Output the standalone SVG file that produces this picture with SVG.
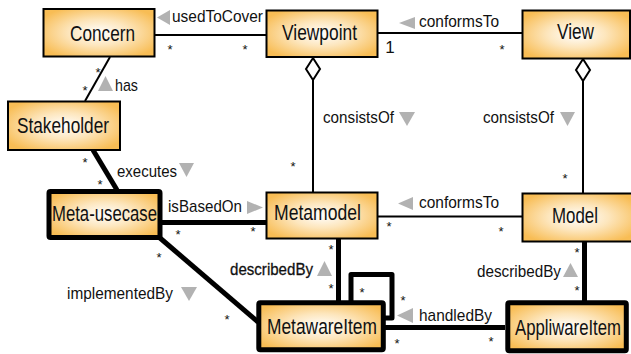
<svg xmlns="http://www.w3.org/2000/svg" width="631" height="354" viewBox="0 0 631 354">
  <defs>
    <radialGradient id="nodeFill" cx="50%" cy="50%" r="60%">
      <stop offset="0" stop-color="#ffffff"/>
      <stop offset="0.45" stop-color="#fde6bd"/>
      <stop offset="1" stop-color="#f8bd55"/>
    </radialGradient>
    <style>
      .node { fill: url(#nodeFill); stroke: #000; stroke-width: 2; }
      .node.heavy { stroke-width: 5; stroke-linejoin: round; }
      .name { font-family: "Liberation Sans", Arial, sans-serif; font-size: 22px; fill: #111; }
      .link { fill: none; stroke: #000; stroke-width: 2; }
      .link.heavy { stroke-width: 5; stroke-linejoin: round; }
      .diamond { fill: #fff; stroke: #000; stroke-width: 2; }
      .lbl { font-family: "Liberation Sans", Arial, sans-serif; font-size: 17px; fill: #111; }
      .dir { fill: #b2b2b2; }
      .mult { font-family: "Liberation Sans", Arial, sans-serif; font-size: 13px; fill: #111; text-anchor: middle; }
      .mult.one { font-size: 17px; }
    </style>
  </defs>

  <!-- associations -->
  <g id="connectors">
    <!-- Concern - Viewpoint -->
    <line class="link" x1="155" y1="35" x2="266" y2="35"/>
    <polygon class="dir" points="157,17.5 170,10 170,25"/>
    <text class="lbl" x="172" y="22" textLength="91" lengthAdjust="spacingAndGlyphs">usedToCover</text>
    <text class="mult" x="170" y="54">*</text>
    <text class="mult" x="245" y="54">*</text>

    <!-- Viewpoint - View -->
    <line class="link" x1="378" y1="33" x2="522" y2="33"/>
    <polygon class="dir" points="399,23 415,17 415,29"/>
    <text class="lbl" x="419" y="27" textLength="80" lengthAdjust="spacingAndGlyphs">conformsTo</text>
    <text class="mult one" x="390" y="53">1</text>
    <text class="mult" x="502" y="54">*</text>

    <!-- Concern - Stakeholder -->
    <line class="link" x1="110" y1="57" x2="85" y2="101"/>
    <polygon class="dir" points="105.5,76 98,91 113,91"/>
    <text class="lbl" x="115" y="91" textLength="23" lengthAdjust="spacingAndGlyphs">has</text>
    <text class="mult" x="98" y="77">*</text>
    <text class="mult" x="85" y="95">*</text>

    <!-- Viewpoint consistsOf Metamodel -->
    <line class="link" x1="313" y1="80" x2="313" y2="192"/>
    <polygon class="diamond" points="313,58 320,69 313,80 306,69"/>
    <polygon class="dir" points="399,112 415,112 407,126"/>
    <text class="lbl" x="323" y="123" textLength="71" lengthAdjust="spacingAndGlyphs">consistsOf</text>
    <text class="mult" x="293" y="171">*</text>

    <!-- View consistsOf Model -->
    <line class="link" x1="583" y1="80" x2="583" y2="193"/>
    <polygon class="diamond" points="583,59 590,70 583,81 576,70"/>
    <polygon class="dir" points="560,112 575,112 567.5,126"/>
    <text class="lbl" x="483" y="123" textLength="71" lengthAdjust="spacingAndGlyphs">consistsOf</text>
    <text class="mult" x="565" y="183">*</text>

    <!-- Stakeholder executes Meta-usecase -->
    <line class="link heavy" x1="93" y1="150" x2="117" y2="190"/>
    <polygon class="dir" points="179,163 194,163 186.5,177"/>
    <text class="lbl" x="117" y="177" textLength="60" lengthAdjust="spacingAndGlyphs">executes</text>
    <text class="mult" x="85" y="167">*</text>
    <text class="mult" x="100" y="189">*</text>

    <!-- Meta-usecase isBasedOn Metamodel -->
    <line class="link heavy" x1="162" y1="222.5" x2="266" y2="222.5"/>
    <polygon class="dir" points="247,201 263,207.5 247,214"/>
    <text class="lbl" x="168" y="212" textLength="74" lengthAdjust="spacingAndGlyphs">isBasedOn</text>
    <text class="mult" x="178" y="239">*</text>
    <text class="mult" x="253" y="236">*</text>

    <!-- Metamodel - Model -->
    <line class="link" x1="378" y1="216.5" x2="522" y2="216.5"/>
    <polygon class="dir" points="398,203.5 413,197 413,210"/>
    <text class="lbl" x="419" y="208" textLength="80" lengthAdjust="spacingAndGlyphs">conformsTo</text>
    <text class="mult" x="389" y="231">*</text>
    <text class="mult" x="501" y="236">*</text>

    <!-- Meta-usecase implementedBy MetawareItem -->
    <line class="link heavy" x1="160" y1="238" x2="258" y2="322"/>
    <polygon class="dir" points="181,287 197,287 189,301"/>
    <text class="lbl" x="67" y="299" textLength="106" lengthAdjust="spacingAndGlyphs">implementedBy</text>
    <text class="mult" x="159" y="262">*</text>
    <text class="mult" x="227" y="324">*</text>

    <!-- Metamodel describedBy MetawareItem -->
    <line class="link heavy" x1="338.5" y1="239" x2="338.5" y2="301"/>
    <polygon class="dir" points="324.5,261 317,276 332,276"/>
    <text class="lbl" x="230" y="275" textLength="83" lengthAdjust="spacingAndGlyphs" stroke="#111" stroke-width="0.3">describedBy</text>
    <text class="mult" x="331" y="254">*</text>
    <text class="mult" x="331" y="293">*</text>

    <!-- Model describedBy AppliwareItem -->
    <line class="link heavy" x1="584.5" y1="242" x2="584.5" y2="301"/>
    <polygon class="dir" points="570.5,263 563,277 578,277"/>
    <text class="lbl" x="477" y="277" textLength="84" lengthAdjust="spacingAndGlyphs">describedBy</text>
    <text class="mult" x="577" y="257">*</text>
    <text class="mult" x="577" y="295">*</text>

    <!-- MetawareItem self association -->
    <polyline class="link heavy" points="351,301 351,274.5 392,274.5 392,318 385,318"/>
    <text class="mult" x="362" y="297">*</text>
    <text class="mult" x="403" y="305">*</text>

    <!-- MetawareItem handledBy AppliwareItem -->
    <line class="link heavy" x1="385" y1="327.5" x2="505" y2="327.5"/>
    <polygon class="dir" points="397,315.5 413,308 413,323"/>
    <text class="lbl" x="419" y="321" textLength="73" lengthAdjust="spacingAndGlyphs">handledBy</text>
    <text class="mult" x="397" y="348">*</text>
    <text class="mult" x="491" y="346">*</text>
  </g>

  <!-- classes -->
  <g id="concern">
    <rect class="node" x="43.5" y="9" width="111" height="47.5"/>
    <text class="name" x="70" y="41" textLength="65" lengthAdjust="spacingAndGlyphs">Concern</text>
  </g>
  <g id="viewpoint">
    <rect class="node" x="266.5" y="10.5" width="111" height="46.5"/>
    <text class="name" x="282" y="40" textLength="75" lengthAdjust="spacingAndGlyphs">Viewpoint</text>
  </g>
  <g id="view">
    <rect class="node" x="522.5" y="10.5" width="107.5" height="48"/>
    <text class="name" x="557" y="39" textLength="37" lengthAdjust="spacingAndGlyphs">View</text>
  </g>
  <g id="stakeholder">
    <rect class="node" x="8" y="101.5" width="112" height="48.5"/>
    <text class="name" x="17" y="133" textLength="92" lengthAdjust="spacingAndGlyphs">Stakeholder</text>
  </g>
  <g id="meta-usecase">
    <rect class="node heavy" x="49" y="191.5" width="111" height="46" rx="1.5"/>
    <text class="name" x="52" y="221" textLength="105" lengthAdjust="spacingAndGlyphs">Meta-usecase</text>
  </g>
  <g id="metamodel">
    <rect class="node" x="266.5" y="192.5" width="111" height="46"/>
    <text class="name" x="274" y="220" textLength="87" lengthAdjust="spacingAndGlyphs">Metamodel</text>
  </g>
  <g id="model">
    <rect class="node" x="522.5" y="193.5" width="112" height="48"/>
    <text class="name" x="552" y="223" textLength="46" lengthAdjust="spacingAndGlyphs">Model</text>
  </g>
  <g id="metaware-item">
    <rect class="node heavy" x="258.8" y="302.8" width="124.5" height="47" rx="1.5"/>
    <text class="name" x="267" y="334" textLength="110" lengthAdjust="spacingAndGlyphs">MetawareItem</text>
  </g>
  <g id="appliware-item">
    <rect class="node heavy" x="507.8" y="302.8" width="118.5" height="48" rx="1.5"/>
    <text class="name" x="515" y="335" textLength="106" lengthAdjust="spacingAndGlyphs">AppliwareItem</text>
  </g>
</svg>
